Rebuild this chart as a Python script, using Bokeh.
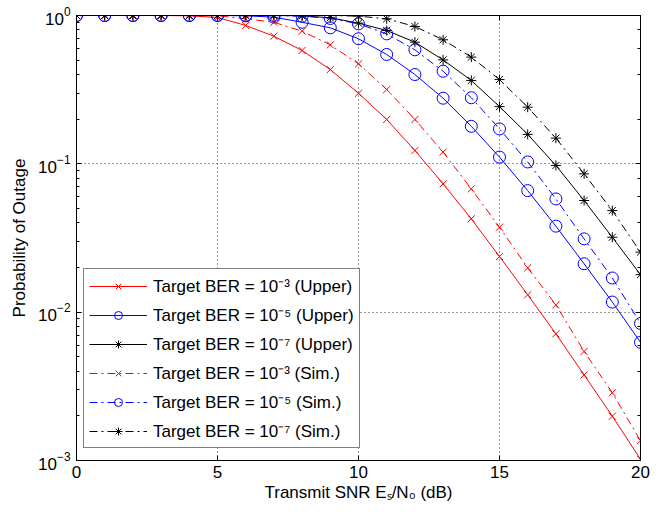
from bokeh.plotting import figure
from bokeh.models import (LogAxis, LinearAxis, FixedTicker, Range1d, Legend, LegendItem,
                          LogTicker, BasicTickFormatter)
from bokeh.embed import file_html
from bokeh.resources import INLINE

snr = list(range(21))
red_upper = [1, 1, 1, 1, 0.995, 0.97, 0.857, 0.725, 0.581, 0.432, 0.299, 0.199, 0.123,
             0.0733, 0.0426, 0.0237, 0.0131, 0.00714, 0.00378, 0.00199, 0.00102]
blue_upper = [1, 1, 1, 1, 1, 1, 0.995, 0.975, 0.90, 0.826, 0.697, 0.546, 0.40, 0.277,
              0.179, 0.111, 0.066, 0.038, 0.0212, 0.0117, 0.00627]
black_upper = [1, 1, 1, 1, 1, 1, 1, 1, 0.995, 0.965, 0.888, 0.792, 0.661, 0.502, 0.365,
               0.243, 0.158, 0.0975, 0.0566, 0.032, 0.0179]
red_sim = [1, 1, 1, 1, 1, 0.995, 0.95, 0.90, 0.784, 0.634, 0.472, 0.317, 0.199, 0.120,
           0.0678, 0.0374, 0.0199, 0.0112, 0.00544, 0.00286, 0.00136]
blue_sim = [1, 1, 1, 1, 1, 1, 1, 1, 0.99, 0.955, 0.879, 0.752, 0.587, 0.421, 0.279,
            0.172, 0.103, 0.058, 0.0312, 0.0170, 0.0084]
black_sim = [1, 1, 1, 1, 1, 1, 1, 1, 1, 1, 0.99, 0.95, 0.843, 0.686, 0.524, 0.370, 0.241,
             0.149, 0.0856, 0.0484, 0.0254]

labels = ["Target BER = 10\u207b\u00b3 (Upper)", "Target BER = 10\u207b\u2075 (Upper)",
          "Target BER = 10\u207b\u2077 (Upper)", "Target BER = 10\u207b\u00b3 (Sim.)",
          "Target BER = 10\u207b\u2075 (Sim.)", "Target BER = 10\u207b\u2077 (Sim.)"]
x_ticks = [0, 5, 10, 15, 20]

FONT = "Liberation Sans"

p = figure(width=663, height=504, y_axis_type="log",
           x_range=Range1d(0, 20), y_range=Range1d(1e-3, 1),
           output_backend="svg", toolbar_location=None,
           min_border_left=76, min_border_right=23, min_border_top=15, min_border_bottom=44)
p.background_fill_color = "white"
p.border_fill_color = "white"
p.outline_line_color = "black"
p.outline_line_width = 1

series = [
    (red_upper, "red", "x", None),
    (blue_upper, "blue", "circle", None),
    (black_upper, "black", "asterisk", None),
    (red_sim, "red", "x", "8 4 2 4"),
    (blue_sim, "blue", "circle", "8 4 2 4"),
    (black_sim, "black", "asterisk", "8 4 2 4"),
]
items = []
for (vals, col, mk, dash), lab in zip(series, labels):
    kw = {}
    if dash:
        kw["line_dash"] = dash
    ln = p.line(snr, vals, line_color=col, line_width=1, **kw)
    sc = p.scatter(snr, vals, marker=mk, size=10 if mk != "circle" else 12,
                   line_color=col, fill_color=None, line_width=1)
    items.append(LegendItem(label=lab, renderers=[ln, sc]))

legend = Legend(items=items, location=(7, 12))
legend.label_text_font = FONT
legend.label_text_font_size = "17px"
legend.label_text_color = "black"
legend.glyph_width = 58
legend.glyph_height = 20
legend.label_height = 20
legend.spacing = 6
legend.padding = 5
legend.margin = 0
legend.label_standoff = 6
legend.border_line_color = "black"
legend.border_line_width = 1
legend.background_fill_color = "white"
legend.background_fill_alpha = 1
p.add_layout(legend, "center")

# axes
p.xaxis.ticker = FixedTicker(ticks=x_ticks)
for ax in [p.xaxis[0], p.yaxis[0]]:
    ax.major_tick_in = 5
    ax.major_tick_out = 0
    ax.minor_tick_in = 3
    ax.minor_tick_out = 0
    ax.axis_line_color = "black"
    ax.major_tick_line_color = "black"
    ax.minor_tick_line_color = "black"
    ax.major_label_text_font = FONT
    ax.major_label_text_font_size = "17px"
    ax.major_label_text_color = "black"
    ax.axis_label_text_font = FONT
    ax.axis_label_text_font_size = "17px"
    ax.axis_label_text_font_style = "normal"
    ax.axis_label_text_color = "black"
p.xaxis.minor_tick_line_color = None
p.xaxis.major_label_standoff = 5
p.xaxis.axis_label = "Transmit SNR E\u209b/N\u2080 (dB)"
p.xaxis.axis_label_standoff = 2
p.yaxis.axis_label = "Probability of Outage"
p.yaxis.axis_label_standoff = 6
p.yaxis.major_label_standoff = 6

top = LinearAxis(ticker=FixedTicker(ticks=x_ticks), major_tick_in=5, major_tick_out=0,
                 minor_tick_line_color=None, formatter=BasicTickFormatter(),
                 major_label_text_font_size="1px", major_label_text_color=None,
                 axis_line_color="black", major_label_standoff=0)
right = LogAxis(ticker=LogTicker(), major_tick_in=5, major_tick_out=0,
                minor_tick_in=3, minor_tick_out=0, formatter=BasicTickFormatter(),
                major_label_text_font_size="1px", major_label_text_color=None,
                axis_line_color="black", major_label_standoff=0)
p.add_layout(top, "above")
p.add_layout(right, "right")

# grid
p.xgrid.ticker = FixedTicker(ticks=x_ticks)
for g in [p.xgrid[0], p.ygrid[0]]:
    g.grid_line_color = "black"
    g.grid_line_dash = "1 3"
    g.grid_line_width = 1
    g.grid_line_alpha = 0.8
p.ygrid.minor_grid_line_color = None

open("out.html", "w").write(file_html(p, INLINE))
